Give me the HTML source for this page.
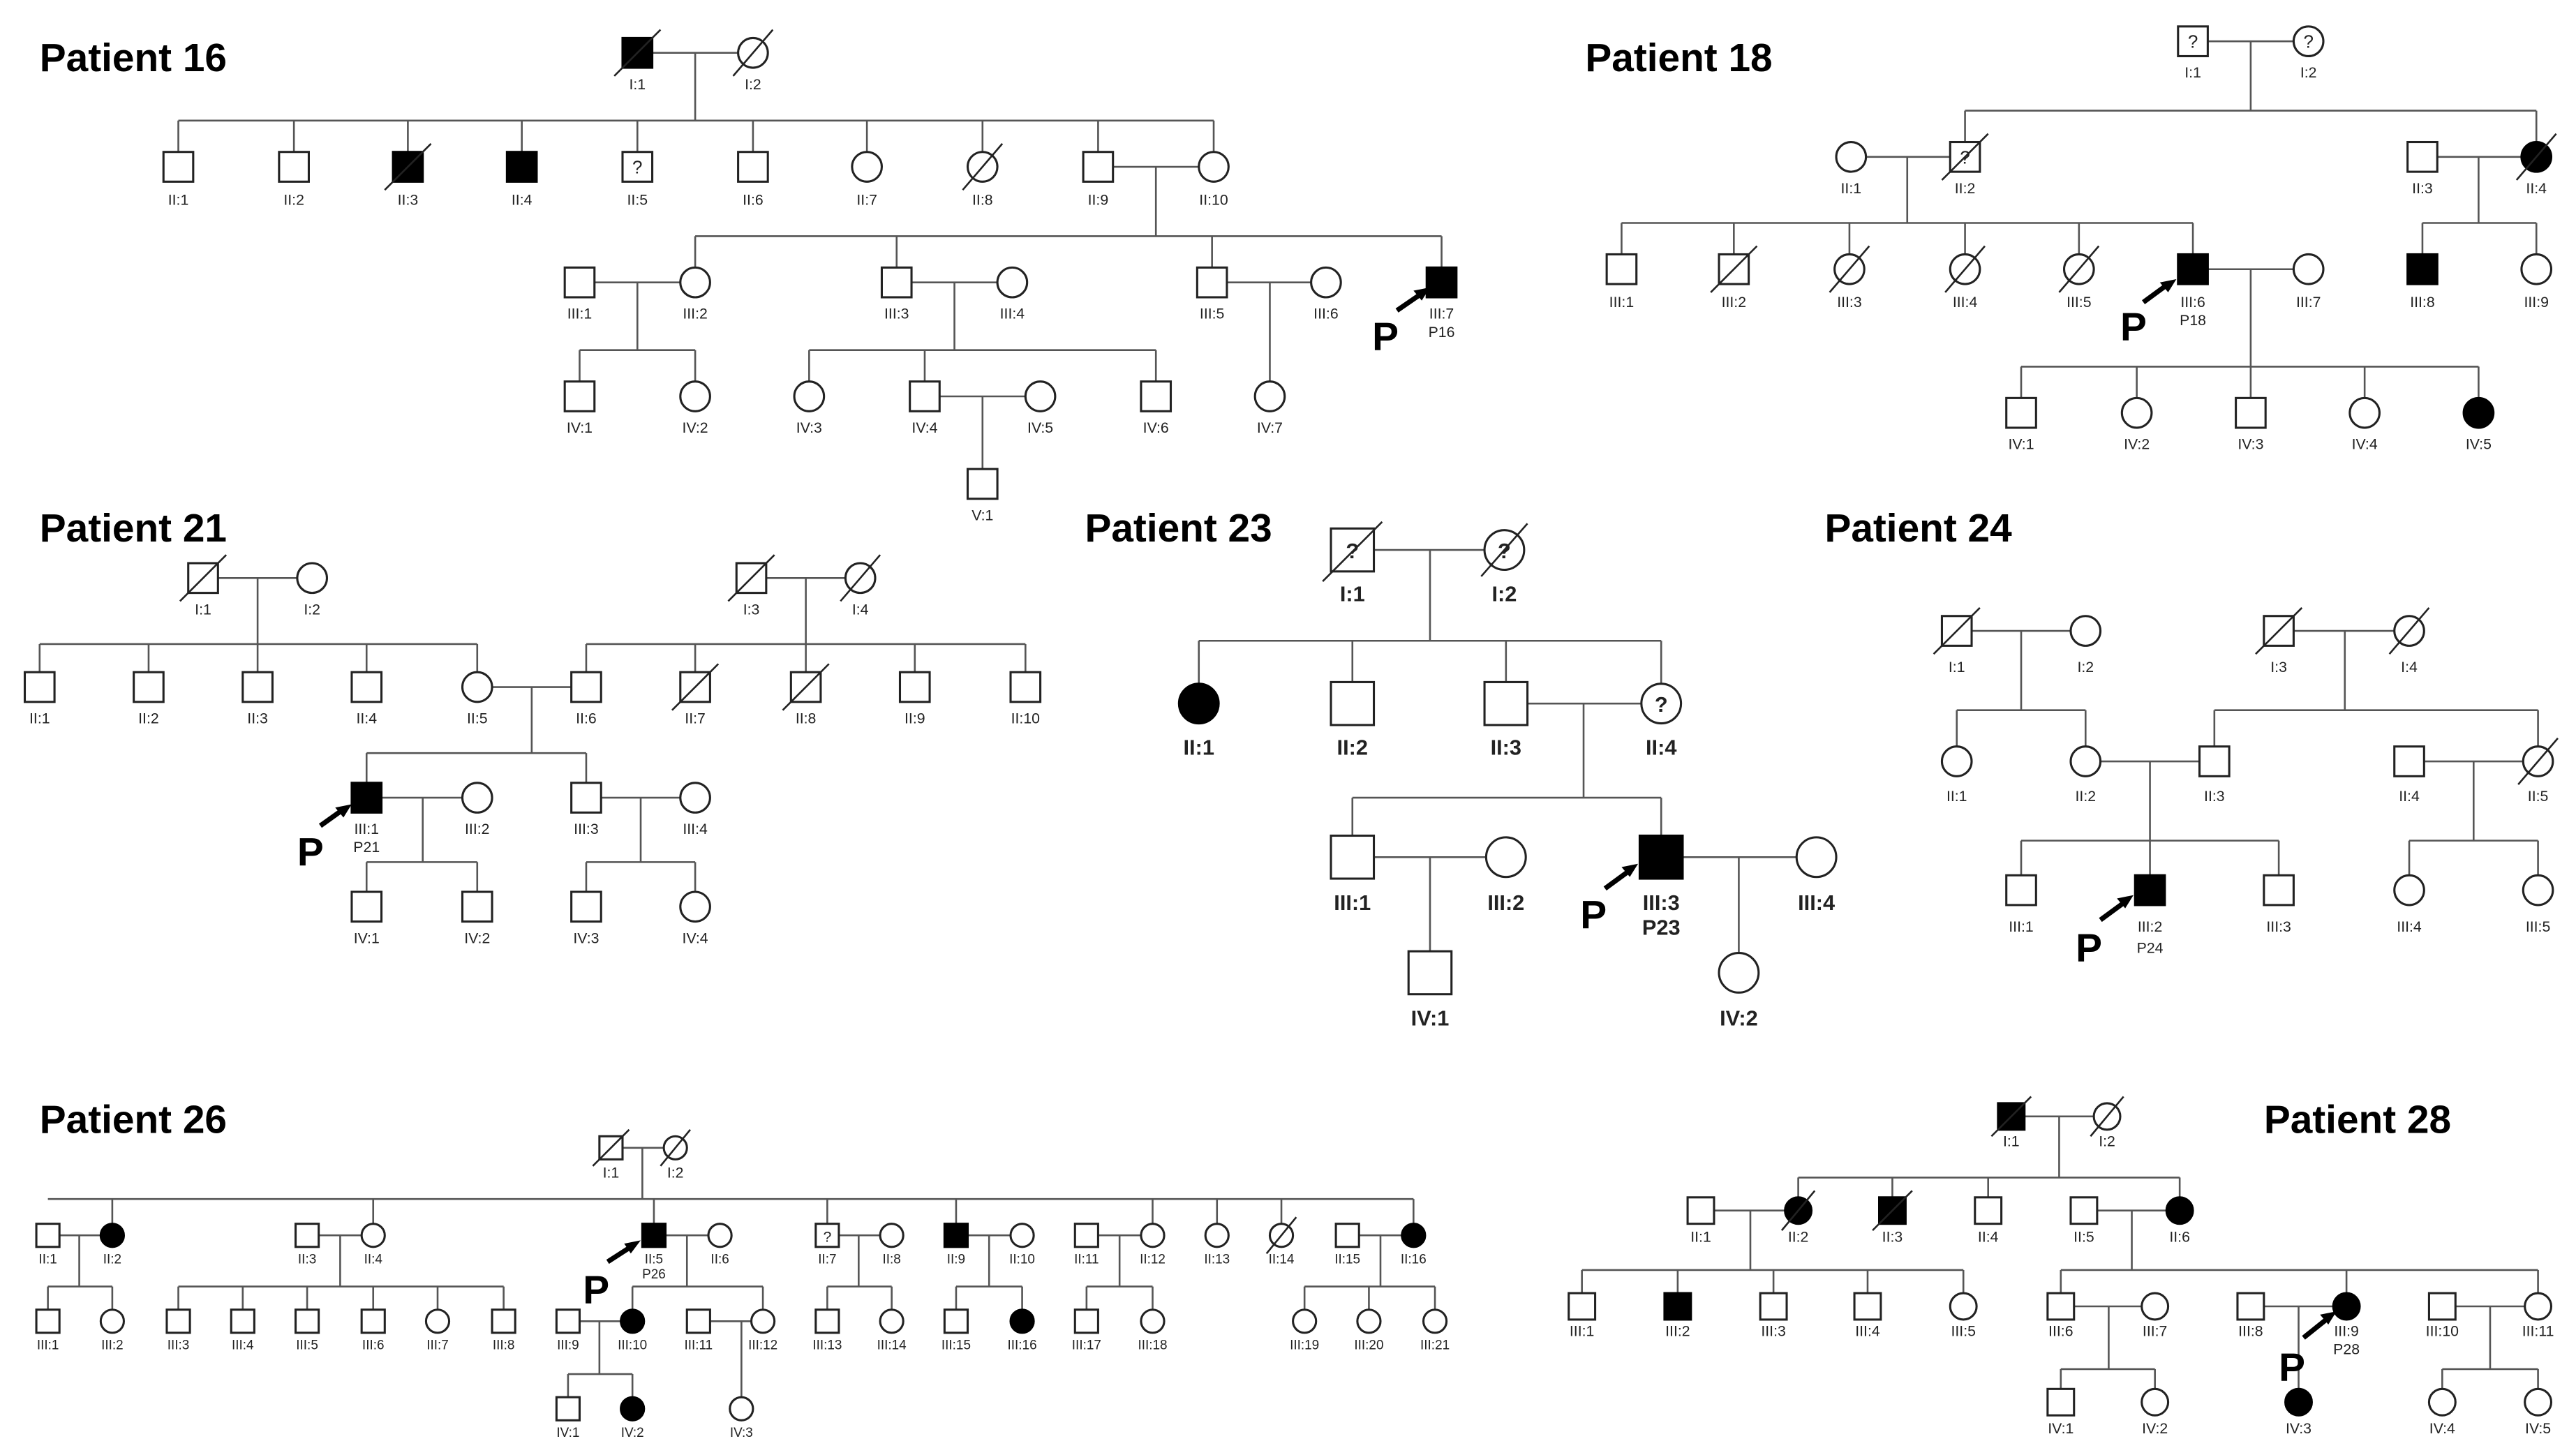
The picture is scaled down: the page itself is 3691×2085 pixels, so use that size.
<!DOCTYPE html>
<html><head><meta charset="utf-8"><style>
html,body{margin:0;padding:0;background:#fff;width:3691px;height:2085px;overflow:hidden}
svg{display:block}
.t{font:bold 24px "Liberation Sans",sans-serif;fill:#000}
.l{font:9px "Liberation Sans",sans-serif;fill:#222;text-anchor:middle}
.m{font:bold 13px "Liberation Sans",sans-serif;fill:#222;text-anchor:middle}
.p{font:bold 24px "Liberation Sans",sans-serif;fill:#000}
.s{fill:#fff;stroke:#222;stroke-width:1.3}
.f{fill:#000;stroke:#000;stroke-width:1.3}
.c{stroke:#555;stroke-width:1.1;fill:none}
.d{stroke:#222;stroke-width:1.1}
.a{stroke:#000;stroke-width:3}
.q{font:11px "Liberation Sans",sans-serif;fill:#222;text-anchor:middle}
</style></head><body>
<svg width="3691" height="2085" viewBox="0 0 1560 881" preserveAspectRatio="none" xmlns="http://www.w3.org/2000/svg">
<!-- ============ Patient 16 ============ -->
<text class="t" x="24" y="43">Patient 16</text>
<path class="c" d="M395 32H447M421 32V73M108 73H735M108 73V92M178 73V92M247 73V92M316 73V92M386 73V92M456 73V92M525 73V92M595 73V92M665 73V92M735 73V92
M674 101H726M700 101V143M421 143H873M421 143V162M543 143V162M734 143V162M873 143V162
M360 171H412M386 171V212M351 212H421M351 212V231M421 212V231
M552 171H604M578 171V212M490 212H700M490 212V231M560 212V231M700 212V231
M569 240H621M595 240V284
M743 171H794M769 171V231"/>
<rect class="f" x="377" y="23" width="18" height="18"/><line class="d" x1="372" y1="46" x2="400" y2="18"/>
<circle class="s" cx="456" cy="32" r="9"/><line class="d" x1="444" y1="46" x2="468" y2="18"/>
<text class="l" x="386" y="54">I:1</text><text class="l" x="456" y="54">I:2</text>
<rect class="s" x="99" y="92" width="18" height="18"/>
<rect class="s" x="169" y="92" width="18" height="18"/>
<rect class="f" x="238" y="92" width="18" height="18"/><line class="d" x1="233" y1="115" x2="261" y2="87"/>
<rect class="f" x="307" y="92" width="18" height="18"/>
<rect class="s" x="377" y="92" width="18" height="18"/><text class="q" x="386" y="105">?</text>
<rect class="s" x="447" y="92" width="18" height="18"/>
<circle class="s" cx="525" cy="101" r="9"/>
<circle class="s" cx="595" cy="101" r="9"/><line class="d" x1="583" y1="115" x2="607" y2="87"/>
<rect class="s" x="656" y="92" width="18" height="18"/>
<circle class="s" cx="735" cy="101" r="9"/>
<text class="l" x="108" y="124">II:1</text><text class="l" x="178" y="124">II:2</text><text class="l" x="247" y="124">II:3</text><text class="l" x="316" y="124">II:4</text><text class="l" x="386" y="124">II:5</text><text class="l" x="456" y="124">II:6</text><text class="l" x="525" y="124">II:7</text><text class="l" x="595" y="124">II:8</text><text class="l" x="665" y="124">II:9</text><text class="l" x="735" y="124">II:10</text>
<rect class="s" x="342" y="162" width="18" height="18"/><circle class="s" cx="421" cy="171" r="9"/>
<rect class="s" x="534" y="162" width="18" height="18"/><circle class="s" cx="613" cy="171" r="9"/>
<rect class="s" x="725" y="162" width="18" height="18"/><circle class="s" cx="803" cy="171" r="9"/>
<rect class="f" x="864" y="162" width="18" height="18"/>
<text class="l" x="351" y="193">III:1</text><text class="l" x="421" y="193">III:2</text><text class="l" x="543" y="193">III:3</text><text class="l" x="613" y="193">III:4</text><text class="l" x="734" y="193">III:5</text><text class="l" x="803" y="193">III:6</text><text class="l" x="873" y="193">III:7</text><text class="l" x="873" y="204">P16</text>
<text class="p" x="831" y="212">P</text><line class="a" x1="846" y1="188" x2="862" y2="177"/><path d="M866 174L856 176L861 182Z" fill="#000"/>
<rect class="s" x="342" y="231" width="18" height="18"/><circle class="s" cx="421" cy="240" r="9"/>
<circle class="s" cx="490" cy="240" r="9"/><rect class="s" x="551" y="231" width="18" height="18"/><circle class="s" cx="630" cy="240" r="9"/><rect class="s" x="691" y="231" width="18" height="18"/><circle class="s" cx="769" cy="240" r="9"/>
<text class="l" x="351" y="262">IV:1</text><text class="l" x="421" y="262">IV:2</text><text class="l" x="490" y="262">IV:3</text><text class="l" x="560" y="262">IV:4</text><text class="l" x="630" y="262">IV:5</text><text class="l" x="700" y="262">IV:6</text><text class="l" x="769" y="262">IV:7</text>
<rect class="s" x="586" y="284" width="18" height="18"/><text class="l" x="595" y="315">V:1</text>

<!-- ============ Patient 18 ============ -->
<text class="t" x="960" y="43">Patient 18</text>
<path class="c" d="M1337 25H1389M1363 25V67M1190 67H1536M1190 67V86M1536 67V86
M1130 95H1181M1155 95V135M982 135H1328M982 135V154M1050 135V154M1120 135V154M1190 135V154M1259 135V154M1328 135V154
M1476 95H1527M1501 95V135M1467 135H1536M1467 135V154M1536 135V154
M1337 163H1389M1363 163V222M1224 222H1501M1224 222V241M1294 222V241M1363 222V241M1432 222V241M1501 222V241"/>
<rect class="s" x="1319" y="16" width="18" height="18"/><text class="q" x="1328" y="29">?</text>
<circle class="s" cx="1398" cy="25" r="9"/><text class="q" x="1398" y="29">?</text>
<text class="l" x="1328" y="47">I:1</text><text class="l" x="1398" y="47">I:2</text>
<circle class="s" cx="1121" cy="95" r="9"/>
<rect class="s" x="1181" y="86" width="18" height="18"/><text class="q" x="1190" y="99">?</text><line class="d" x1="1176" y1="109" x2="1204" y2="81"/>
<rect class="s" x="1458" y="86" width="18" height="18"/>
<circle class="f" cx="1536" cy="95" r="9"/><line class="d" x1="1524" y1="109" x2="1548" y2="81"/>
<text class="l" x="1121" y="117">II:1</text><text class="l" x="1190" y="117">II:2</text><text class="l" x="1467" y="117">II:3</text><text class="l" x="1536" y="117">II:4</text>
<rect class="s" x="973" y="154" width="18" height="18"/>
<rect class="s" x="1041" y="154" width="18" height="18"/><line class="d" x1="1036" y1="177" x2="1064" y2="149"/>
<circle class="s" cx="1120" cy="163" r="9"/><line class="d" x1="1108" y1="177" x2="1132" y2="149"/>
<circle class="s" cx="1190" cy="163" r="9"/><line class="d" x1="1178" y1="177" x2="1202" y2="149"/>
<circle class="s" cx="1259" cy="163" r="9"/><line class="d" x1="1247" y1="177" x2="1271" y2="149"/>
<rect class="f" x="1319" y="154" width="18" height="18"/>
<circle class="s" cx="1398" cy="163" r="9"/>
<rect class="f" x="1458" y="154" width="18" height="18"/><circle class="s" cx="1536" cy="163" r="9"/>
<text class="l" x="982" y="186">III:1</text><text class="l" x="1050" y="186">III:2</text><text class="l" x="1120" y="186">III:3</text><text class="l" x="1190" y="186">III:4</text><text class="l" x="1259" y="186">III:5</text><text class="l" x="1328" y="186">III:6</text><text class="l" x="1398" y="186">III:7</text><text class="l" x="1467" y="186">III:8</text><text class="l" x="1536" y="186">III:9</text><text class="l" x="1328" y="197">P18</text>
<text class="p" x="1284" y="206">P</text><line class="a" x1="1298" y1="183" x2="1313" y2="172"/><path d="M1318 169L1308 171L1313 177Z" fill="#000"/>
<rect class="s" x="1215" y="241" width="18" height="18"/><circle class="s" cx="1294" cy="250" r="9"/><rect class="s" x="1354" y="241" width="18" height="18"/><circle class="s" cx="1432" cy="250" r="9"/><circle class="f" cx="1501" cy="250" r="9"/>
<text class="l" x="1224" y="272">IV:1</text><text class="l" x="1294" y="272">IV:2</text><text class="l" x="1363" y="272">IV:3</text><text class="l" x="1432" y="272">IV:4</text><text class="l" x="1501" y="272">IV:5</text>

<!-- ============ Patient 21 ============ -->
<text class="t" x="24" y="328">Patient 21</text>
<path class="c" d="M132 350H180M156 350V390M24 390H289M24 390V407M90 390V407M156 390V407M222 390V407M289 390V407
M464 350H512M488 350V390M355 390H621M355 390V407M421 390V407M488 390V407M554 390V407M621 390V407
M298 416H346M322 416V456M222 456H355M222 456V474M355 456V474
M231 483H280M256 483V522M222 522H289M222 522V540M289 522V540
M364 483H412M388 483V522M355 522H421M355 522V540M421 522V540"/>
<rect class="s" x="114" y="341" width="18" height="18"/><line class="d" x1="109" y1="364" x2="137" y2="336"/>
<circle class="s" cx="189" cy="350" r="9"/>
<rect class="s" x="446" y="341" width="18" height="18"/><line class="d" x1="441" y1="364" x2="469" y2="336"/>
<circle class="s" cx="521" cy="350" r="9"/><line class="d" x1="509" y1="364" x2="533" y2="336"/>
<text class="l" x="123" y="372">I:1</text><text class="l" x="189" y="372">I:2</text><text class="l" x="455" y="372">I:3</text><text class="l" x="521" y="372">I:4</text>
<rect class="s" x="15" y="407" width="18" height="18"/><rect class="s" x="81" y="407" width="18" height="18"/><rect class="s" x="147" y="407" width="18" height="18"/><rect class="s" x="213" y="407" width="18" height="18"/><circle class="s" cx="289" cy="416" r="9"/>
<rect class="s" x="346" y="407" width="18" height="18"/>
<rect class="s" x="412" y="407" width="18" height="18"/><line class="d" x1="407" y1="430" x2="435" y2="402"/>
<rect class="s" x="479" y="407" width="18" height="18"/><line class="d" x1="474" y1="430" x2="502" y2="402"/>
<rect class="s" x="545" y="407" width="18" height="18"/><rect class="s" x="612" y="407" width="18" height="18"/>
<text class="l" x="24" y="438">II:1</text><text class="l" x="90" y="438">II:2</text><text class="l" x="156" y="438">II:3</text><text class="l" x="222" y="438">II:4</text><text class="l" x="289" y="438">II:5</text><text class="l" x="355" y="438">II:6</text><text class="l" x="421" y="438">II:7</text><text class="l" x="488" y="438">II:8</text><text class="l" x="554" y="438">II:9</text><text class="l" x="621" y="438">II:10</text>
<rect class="f" x="213" y="474" width="18" height="18"/><circle class="s" cx="289" cy="483" r="9"/><rect class="s" x="346" y="474" width="18" height="18"/><circle class="s" cx="421" cy="483" r="9"/>
<text class="l" x="222" y="505">III:1</text><text class="l" x="289" y="505">III:2</text><text class="l" x="355" y="505">III:3</text><text class="l" x="421" y="505">III:4</text><text class="l" x="222" y="516">P21</text>
<text class="p" x="180" y="524">P</text><line class="a" x1="194" y1="500" x2="208" y2="490"/><path d="M213 487L203 489L208 495Z" fill="#000"/>
<rect class="s" x="213" y="540" width="18" height="18"/><rect class="s" x="280" y="540" width="18" height="18"/><rect class="s" x="346" y="540" width="18" height="18"/><circle class="s" cx="421" cy="549" r="9"/>
<text class="l" x="222" y="571">IV:1</text><text class="l" x="289" y="571">IV:2</text><text class="l" x="355" y="571">IV:3</text><text class="l" x="421" y="571">IV:4</text>

<!-- ============ Patient 23 ============ -->
<text class="t" x="657" y="328">Patient 23</text>
<path class="c" d="M832 333H899M866 333V388M726 388H1006M726 388V414M819 388V413M912 388V413M1006 388V414
M925 426H994M959 426V483M819 483H1006M819 483V506M1006 483V506
M832 519H900M866 519V576M1019 519H1088M1053 519V577"/>
<rect class="s" x="806" y="320" width="26" height="26"/><text class="m" x="819" y="338">?</text><line class="d" x1="801" y1="352" x2="837" y2="316"/>
<circle class="s" cx="911" cy="333" r="12"/><text class="m" x="911" y="338">?</text><line class="d" x1="897" y1="349" x2="925" y2="317"/>
<text class="m" x="819" y="364">I:1</text><text class="m" x="911" y="364">I:2</text>
<circle class="f" cx="726" cy="426" r="12"/><rect class="s" x="806" y="413" width="26" height="26"/><rect class="s" x="899" y="413" width="26" height="26"/><circle class="s" cx="1006" cy="426" r="12"/><text class="m" x="1006" y="431">?</text>
<text class="m" x="726" y="457">II:1</text><text class="m" x="819" y="457">II:2</text><text class="m" x="912" y="457">II:3</text><text class="m" x="1006" y="457">II:4</text>
<rect class="s" x="806" y="506" width="26" height="26"/><circle class="s" cx="912" cy="519" r="12"/><rect class="f" x="993" y="506" width="26" height="26"/><circle class="s" cx="1100" cy="519" r="12"/>
<text class="m" x="819" y="551">III:1</text><text class="m" x="912" y="551">III:2</text><text class="m" x="1006" y="551">III:3</text><text class="m" x="1100" y="551">III:4</text><text class="m" x="1006" y="566">P23</text>
<text class="p" x="957" y="562">P</text><line class="a" x1="972" y1="538" x2="987" y2="527"/><path d="M992 523L982 525L987 531Z" fill="#000"/>
<rect class="s" x="853" y="576" width="26" height="26"/><circle class="s" cx="1053" cy="589" r="12"/>
<text class="m" x="866" y="621">IV:1</text><text class="m" x="1053" y="621">IV:2</text>

<!-- ============ Patient 24 ============ -->
<text class="t" x="1105" y="328">Patient 24</text>
<path class="c" d="M1194 382H1254M1224 382V430M1185 430H1263M1185 430V452M1263 430V452
M1389 382H1450M1420 382V430M1341 430H1537M1341 430V452M1537 430V452
M1272 461H1332M1302 461V509M1224 509H1380M1224 509V530M1302 509V530M1380 509V530
M1468 461H1528M1498 461V509M1459 509H1537M1459 509V530M1537 509V530"/>
<rect class="s" x="1176" y="373" width="18" height="18"/><line class="d" x1="1171" y1="396" x2="1199" y2="368"/>
<circle class="s" cx="1263" cy="382" r="9"/>
<rect class="s" x="1371" y="373" width="18" height="18"/><line class="d" x1="1366" y1="396" x2="1394" y2="368"/>
<circle class="s" cx="1459" cy="382" r="9"/><line class="d" x1="1447" y1="396" x2="1471" y2="368"/>
<text class="l" x="1185" y="407">I:1</text><text class="l" x="1263" y="407">I:2</text><text class="l" x="1380" y="407">I:3</text><text class="l" x="1459" y="407">I:4</text>
<circle class="s" cx="1185" cy="461" r="9"/><circle class="s" cx="1263" cy="461" r="9"/><rect class="s" x="1332" y="452" width="18" height="18"/><rect class="s" x="1450" y="452" width="18" height="18"/>
<circle class="s" cx="1537" cy="461" r="9"/><line class="d" x1="1525" y1="475" x2="1549" y2="447"/>
<text class="l" x="1185" y="485">II:1</text><text class="l" x="1263" y="485">II:2</text><text class="l" x="1341" y="485">II:3</text><text class="l" x="1459" y="485">II:4</text><text class="l" x="1537" y="485">II:5</text>
<rect class="s" x="1215" y="530" width="18" height="18"/><rect class="f" x="1293" y="530" width="18" height="18"/><rect class="s" x="1371" y="530" width="18" height="18"/><circle class="s" cx="1459" cy="539" r="9"/><circle class="s" cx="1537" cy="539" r="9"/>
<text class="l" x="1224" y="564">III:1</text><text class="l" x="1302" y="564">III:2</text><text class="l" x="1380" y="564">III:3</text><text class="l" x="1459" y="564">III:4</text><text class="l" x="1537" y="564">III:5</text><text class="l" x="1302" y="577">P24</text>
<text class="p" x="1257" y="582">P</text><line class="a" x1="1272" y1="557" x2="1287" y2="546"/><path d="M1292 542L1282 544L1287 550Z" fill="#000"/>

<!-- ============ Patient 26 ============ -->
<text class="t" x="24" y="686">Patient 26</text>
<path class="c" d="M377 695H402M389 695V726M29 726H856M68 726V741M226 726V741M396 726V741M501 726V741M579 726V741M698 726V741M737 726V741M776 726V741M856 726V741
M36 748H61M48 748V779M29 779H68M29 779V793M68 779V793
M193 748H219M206 748V779M108 779H305M108 779V793M147 779V793M186 779V793M226 779V793M265 779V793M305 779V793
M403 748H429M416 748V779M383 779H462M383 779V793M462 779V793
M508 748H533M520 748V779M501 779H540M501 779V793M540 779V793
M586 748H612M599 748V779M579 779H619M579 779V793M619 779V793
M665 748H691M678 748V779M658 779H698M658 779V793M698 779V793
M823 748H849M836 748V779M790 779H869M790 779V793M829 779V793M869 779V793
M351 800H376M363 800V832M344 832H383M344 832V846M383 832V846
M430 800H455M449 800V846"/>
<rect class="s" x="363" y="688" width="14" height="14"/><line class="d" x1="359" y1="706" x2="381" y2="684"/>
<circle class="s" cx="409" cy="695" r="7"/><line class="d" x1="400" y1="706" x2="418" y2="684"/>
<text class="l" x="370" y="713">I:1</text><text class="l" x="409" y="713">I:2</text>
<rect class="s" x="22" y="741" width="14" height="14"/><circle class="f" cx="68" cy="748" r="7"/>
<rect class="s" x="179" y="741" width="14" height="14"/><circle class="s" cx="226" cy="748" r="7"/>
<rect class="f" x="389" y="741" width="14" height="14"/><circle class="s" cx="436" cy="748" r="7"/>
<rect class="s" x="494" y="741" width="14" height="14"/><text class="l" x="501" y="752">?</text><circle class="s" cx="540" cy="748" r="7"/>
<rect class="f" x="572" y="741" width="14" height="14"/><circle class="s" cx="619" cy="748" r="7"/>
<rect class="s" x="651" y="741" width="14" height="14"/><circle class="s" cx="698" cy="748" r="7"/>
<circle class="s" cx="737" cy="748" r="7"/>
<circle class="s" cx="776" cy="748" r="7"/><line class="d" x1="767" y1="759" x2="785" y2="737"/>
<rect class="s" x="809" y="741" width="14" height="14"/><circle class="f" cx="856" cy="748" r="7"/>
<g class="l" style="font-size:8px"><text x="29" y="765">II:1</text><text x="68" y="765">II:2</text><text x="186" y="765">II:3</text><text x="226" y="765">II:4</text><text x="396" y="765">II:5</text><text x="436" y="765">II:6</text><text x="501" y="765">II:7</text><text x="540" y="765">II:8</text><text x="579" y="765">II:9</text><text x="619" y="765">II:10</text><text x="658" y="765">II:11</text><text x="698" y="765">II:12</text><text x="737" y="765">II:13</text><text x="776" y="765">II:14</text><text x="816" y="765">II:15</text><text x="856" y="765">II:16</text><text x="396" y="774">P26</text></g>
<text class="p" x="353" y="789">P</text><line class="a" x1="368" y1="764" x2="382" y2="755"/><path d="M388 751L378 753L382 759Z" fill="#000"/>
<rect class="s" x="22" y="793" width="14" height="14"/><circle class="s" cx="68" cy="800" r="7"/>
<rect class="s" x="101" y="793" width="14" height="14"/><rect class="s" x="140" y="793" width="14" height="14"/><rect class="s" x="179" y="793" width="14" height="14"/><rect class="s" x="219" y="793" width="14" height="14"/><circle class="s" cx="265" cy="800" r="7"/><rect class="s" x="298" y="793" width="14" height="14"/>
<rect class="s" x="337" y="793" width="14" height="14"/><circle class="f" cx="383" cy="800" r="7"/><rect class="s" x="416" y="793" width="14" height="14"/><circle class="s" cx="462" cy="800" r="7"/>
<rect class="s" x="494" y="793" width="14" height="14"/><circle class="s" cx="540" cy="800" r="7"/>
<rect class="s" x="572" y="793" width="14" height="14"/><circle class="f" cx="619" cy="800" r="7"/>
<rect class="s" x="651" y="793" width="14" height="14"/><circle class="s" cx="698" cy="800" r="7"/>
<circle class="s" cx="790" cy="800" r="7"/><circle class="s" cx="829" cy="800" r="7"/><circle class="s" cx="869" cy="800" r="7"/>
<g class="l" style="font-size:8px"><text x="29" y="817">III:1</text><text x="68" y="817">III:2</text><text x="108" y="817">III:3</text><text x="147" y="817">III:4</text><text x="186" y="817">III:5</text><text x="226" y="817">III:6</text><text x="265" y="817">III:7</text><text x="305" y="817">III:8</text><text x="344" y="817">III:9</text><text x="383" y="817">III:10</text><text x="423" y="817">III:11</text><text x="462" y="817">III:12</text><text x="501" y="817">III:13</text><text x="540" y="817">III:14</text><text x="579" y="817">III:15</text><text x="619" y="817">III:16</text><text x="658" y="817">III:17</text><text x="698" y="817">III:18</text><text x="790" y="817">III:19</text><text x="829" y="817">III:20</text><text x="869" y="817">III:21</text>
<text x="344" y="870">IV:1</text><text x="383" y="870">IV:2</text><text x="449" y="870">IV:3</text></g>
<rect class="s" x="337" y="846" width="14" height="14"/><circle class="f" cx="383" cy="853" r="7"/><circle class="s" cx="449" cy="853" r="7"/>

<!-- ============ Patient 28 ============ -->
<text class="t" x="1371" y="686">Patient 28</text>
<path class="c" d="M1226 676H1268M1247 676V713M1089 713H1320M1089 713V725M1146 713V725M1204 713V725M1320 713V725
M1038 733H1081M1060 733V769M958 769H1189M958 769V783M1016 769V783M1074 769V783M1131 769V783M1189 769V783
M1270 733H1312M1291 733V769M1248 769H1537M1248 769V783M1421 769V783M1537 769V783
M1256 791H1297M1277 791V829M1248 829H1305M1248 829V841M1305 829V841
M1371 791H1413M1392 791V841
M1487 791H1529M1508 791V829M1479 829H1537M1479 829V841M1537 829V841"/>
<rect class="f" x="1210" y="668" width="16" height="16"/><line class="d" x1="1206" y1="688" x2="1230" y2="664"/>
<circle class="s" cx="1276" cy="676" r="8"/><line class="d" x1="1266" y1="688" x2="1286" y2="664"/>
<text class="l" x="1218" y="694">I:1</text><text class="l" x="1276" y="694">I:2</text>
<rect class="s" x="1022" y="725" width="16" height="16"/>
<circle class="f" cx="1089" cy="733" r="8"/><line class="d" x1="1079" y1="745" x2="1099" y2="721"/>
<rect class="f" x="1138" y="725" width="16" height="16"/><line class="d" x1="1134" y1="745" x2="1158" y2="721"/>
<rect class="s" x="1196" y="725" width="16" height="16"/>
<rect class="s" x="1254" y="725" width="16" height="16"/><circle class="f" cx="1320" cy="733" r="8"/>
<text class="l" x="1030" y="752">II:1</text><text class="l" x="1089" y="752">II:2</text><text class="l" x="1146" y="752">II:3</text><text class="l" x="1204" y="752">II:4</text><text class="l" x="1262" y="752">II:5</text><text class="l" x="1320" y="752">II:6</text>
<rect class="s" x="950" y="783" width="16" height="16"/><rect class="f" x="1008" y="783" width="16" height="16"/><rect class="s" x="1066" y="783" width="16" height="16"/><rect class="s" x="1123" y="783" width="16" height="16"/><circle class="s" cx="1189" cy="791" r="8"/>
<rect class="s" x="1240" y="783" width="16" height="16"/><circle class="s" cx="1305" cy="791" r="8"/><rect class="s" x="1355" y="783" width="16" height="16"/><circle class="f" cx="1421" cy="791" r="8"/><rect class="s" x="1471" y="783" width="16" height="16"/><circle class="s" cx="1537" cy="791" r="8"/>
<text class="l" x="958" y="809">III:1</text><text class="l" x="1016" y="809">III:2</text><text class="l" x="1074" y="809">III:3</text><text class="l" x="1131" y="809">III:4</text><text class="l" x="1189" y="809">III:5</text><text class="l" x="1248" y="809">III:6</text><text class="l" x="1305" y="809">III:7</text><text class="l" x="1363" y="809">III:8</text><text class="l" x="1421" y="809">III:9</text><text class="l" x="1479" y="809">III:10</text><text class="l" x="1537" y="809">III:11</text><text class="l" x="1421" y="820">P28</text>
<text class="p" x="1380" y="836">P</text><line class="a" x1="1395" y1="810" x2="1410" y2="798"/><path d="M1415 794L1405 796L1410 802Z" fill="#000"/>
<rect class="s" x="1240" y="841" width="16" height="16"/><circle class="s" cx="1305" cy="849" r="8"/><circle class="f" cx="1392" cy="849" r="8"/><circle class="s" cx="1479" cy="849" r="8"/><circle class="s" cx="1537" cy="849" r="8"/>
<text class="l" x="1248" y="868">IV:1</text><text class="l" x="1305" y="868">IV:2</text><text class="l" x="1392" y="868">IV:3</text><text class="l" x="1479" y="868">IV:4</text><text class="l" x="1537" y="868">IV:5</text>
</svg>
</body></html>
